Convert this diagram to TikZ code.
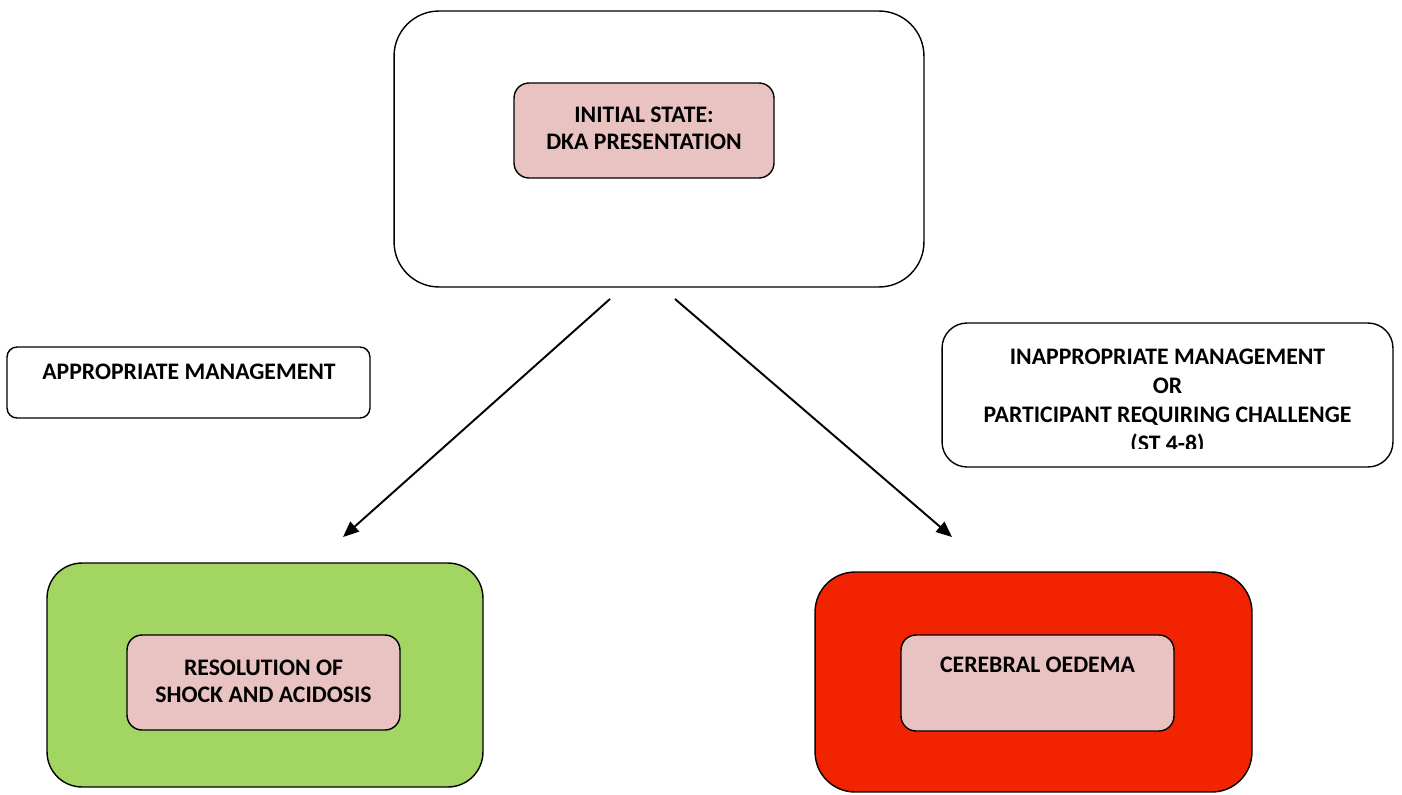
\documentclass[tikz,border=0pt]{standalone}
\usepackage{fontspec}
\setmainfont{Carlito}
\definecolor{stategreen}{HTML}{A2D561}
\definecolor{statered}{HTML}{F22300}
\definecolor{statepink}{HTML}{E9C3C2}
\usetikzlibrary{arrows.meta, calc}

\begin{document}
\begin{tikzpicture}[x=0.02cm, y=-0.02cm, >={Triangle[length=9pt,width=7.5pt]}, line width=0.8pt,
  box/.style={draw, rounded corners=#1, inner sep=0pt, outer sep=0pt},
  lbl/.style={font=\fontsize{13.5}{15.3}\selectfont\bfseries, align=center}]
  \useasboundingbox (0,0) rectangle (1402,794);

  % Initial state
  \node[box=0.9cm, minimum width=10.6cm, minimum height=5.52cm] (initout) at (659,149) {};
  \node[box=0.3cm, fill=statepink, minimum width=5.2cm, minimum height=1.9cm] (initin) at (644,130.5) {};
  \node[lbl] (inittxt) at (644,128.5) {INITIAL STATE:\\DKA PRESENTATION};

  % Management labels
  \node[box=0.2cm, minimum width=7.26cm, minimum height=1.42cm] (approp) at (188.5,382.5) {};
  \node[lbl] (approptxt) at (189,372) {APPROPRIATE MANAGEMENT};
  \node[box=0.5cm, minimum width=9.02cm, minimum height=2.88cm] (inapp) at (1167.5,395) {};
  \begin{scope}
    \clip (942,323) rectangle (1393,448);
    \node[lbl, font=\fontsize{13.5}{16.6}\selectfont\bfseries] (inapptxt) at (1167.5,402)
      {INAPPROPRIATE MANAGEMENT\\OR\\PARTICIPANT REQUIRING CHALLENGE\\(ST 4-8)};
  \end{scope}

  % Outcomes
  \node[box=0.7cm, fill=stategreen, minimum width=8.72cm, minimum height=4.48cm] (resol) at (265,675) {};
  \node[box=0.3cm, fill=statepink, minimum width=5.46cm, minimum height=1.9cm] (resolin) at (263.5,682.5) {};
  \node[lbl] (resoltxt) at (263.5,681) {RESOLUTION OF\\SHOCK AND ACIDOSIS};
  \node[box=0.8cm, fill=statered, minimum width=8.74cm, minimum height=4.4cm] (oedema) at (1033.5,682) {};
  \node[box=0.3cm, fill=statepink, minimum width=5.46cm, minimum height=1.92cm] (oedemain) at (1037.5,683) {};
  \node[lbl] (oedematxt) at (1037.5,665) {CEREBRAL OEDEMA};

  % Arrows
  \coordinate (goodstart) at ($(initout.south)+(-49,12)$);
  \coordinate (goodend) at ($(resol.north)+(78,-26)$);
  \coordinate (badstart) at ($(initout.south)+(16,12)$);
  \coordinate (badend) at ($(oedema.north)+(-81.5,-35)$);
  \draw[->, line width=1.1pt] (goodstart) -- (goodend);
  \draw[->, line width=1.1pt] (badstart) -- (badend);
\end{tikzpicture}
\end{document}
